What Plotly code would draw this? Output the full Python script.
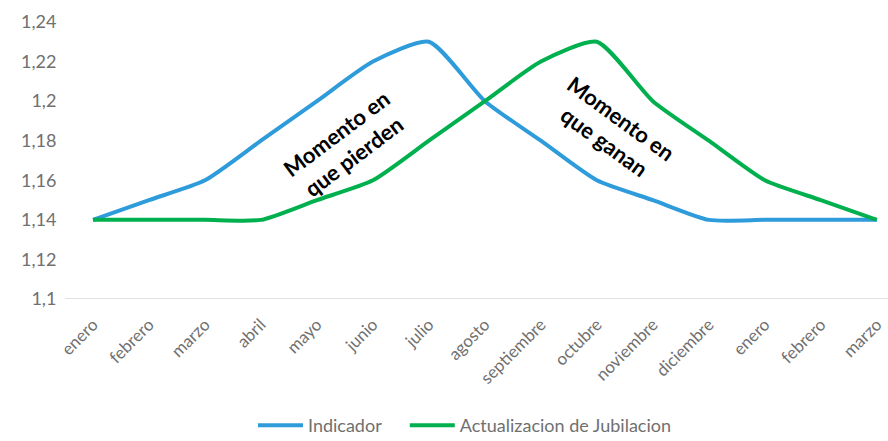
import plotly.graph_objects as go

months = ["enero", "febrero", "marzo", "abril", "mayo", "junio", "julio", "agosto",
          "septiembre", "octubre", "noviembre", "diciembre", "enero", "febrero", "marzo"]
indicador = [1.14, 1.15, 1.16, 1.18, 1.20, 1.22, 1.23, 1.20, 1.18, 1.16, 1.15, 1.14, 1.14, 1.14, 1.14]
jubilacion = [1.14, 1.14, 1.14, 1.14, 1.15, 1.16, 1.18, 1.20, 1.22, 1.23, 1.20, 1.18, 1.16, 1.15, 1.14]
x = list(range(len(months)))

fig = go.Figure()
fig.add_trace(go.Scatter(x=x, y=indicador, mode="lines", name="Indicador\u00a0\u00a0\u00a0\u00a0",
                         line=dict(color="#2E9BDA", width=4, shape="spline", smoothing=0.6)))
fig.add_trace(go.Scatter(x=x, y=jubilacion, mode="lines", name="Actualizacion de Jubilacion",
                         line=dict(color="#00B04F", width=4, shape="spline", smoothing=0.6)))

fig.add_annotation(x=4.5, y=1.178, text="<b>Momento en<br>que pierden</b>", showarrow=False,
                   textangle=-37, font=dict(size=22, color="#000000", family="Lato"))
fig.add_annotation(x=9.28, y=1.1855, text="<b>Momento en<br>que ganan</b>", showarrow=False,
                   textangle=36, font=dict(size=22, color="#000000", family="Lato"))

fig.update_layout(
    width=888, height=441,
    margin=dict(l=65, r=0, t=22, b=142, autoexpand=False),
    paper_bgcolor="white", plot_bgcolor="white",
    separators=",.",
    font=dict(family="Lato", color="#707070"),
    showlegend=True,
    legend=dict(orientation="h", x=0.486, xanchor="center", y=-0.39, yanchor="top",
                font=dict(size=18, color="#707070"), itemwidth=45),
    xaxis=dict(range=[-0.5, 14.2], tickmode="array", tickvals=x, ticktext=months,
               tickangle=-45, tickfont=dict(size=17, color="#707070"), automargin=False,
               showgrid=False, zeroline=False, showline=False,
               ticks="outside", ticklen=8, tickcolor="rgba(0,0,0,0)"),
    yaxis=dict(range=[1.1, 1.24], dtick=0.02, tick0=1.1, tickfont=dict(size=18, color="#707070"),
               automargin=False, showgrid=False, zeroline=False, showline=False,
               ticks="outside", ticklen=4, tickcolor="rgba(0,0,0,0)"),
)
fig.add_shape(type="line", xref="paper", yref="y", x0=0, x1=1, y0=1.1, y1=1.1,
              line=dict(color="#D9D9D9", width=1.5))

fig.write_html("out.html")
